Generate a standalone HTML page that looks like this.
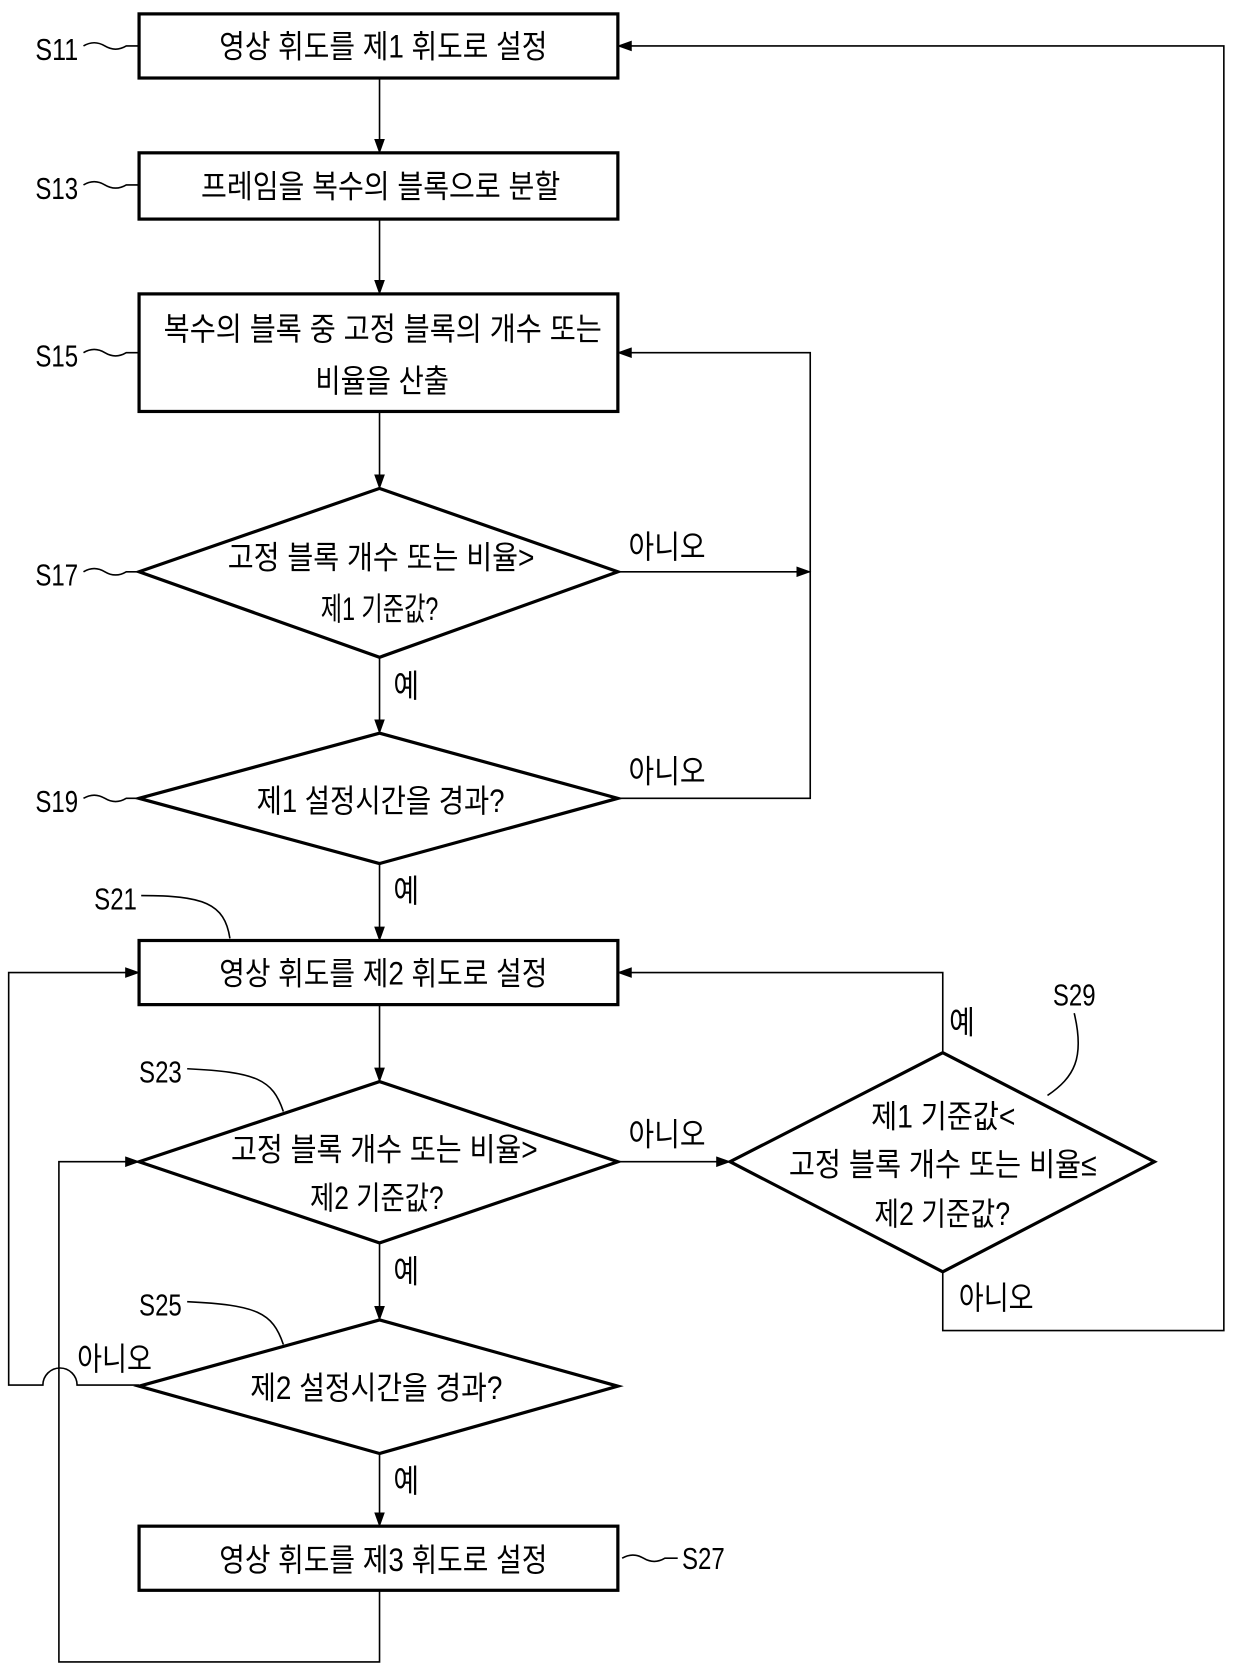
<!DOCTYPE html>
<html><head><meta charset="utf-8"><style>
html,body{margin:0;padding:0;background:#fff}
svg{display:block}
text{font-family:"Liberation Sans","Noto Sans CJK KR",sans-serif;fill:#000}
.k{font-size:30px}
.l{font-size:29px}
</style></head><body>
<svg width="1240" height="1679" viewBox="0 0 1160 1571" xmlns="http://www.w3.org/2000/svg">
<defs><marker id="a" markerWidth="14" markerHeight="10" refX="13" refY="5" orient="auto" markerUnits="userSpaceOnUse"><path d="M0,0 L14,5 L0,10 z" fill="#000"/></marker></defs>
<g fill="none" stroke="#000" stroke-width="3">
<rect x="130" y="13" width="448" height="60"/>
<rect x="130" y="143" width="448" height="62"/>
<rect x="130" y="275" width="448" height="110"/>
<polygon points="130,535 355,457 578,535 355,615"/>
<polygon points="130,747 355,686 578,747 355,808"/>
<rect x="130" y="880" width="448" height="60"/>
<polygon points="130,1087 355,1012 578,1087 355,1163"/>
<polygon points="683,1087 882,985 1080,1087 882,1190"/>
<polygon points="130,1297 355,1235 578,1297 355,1360"/>
<rect x="130" y="1428" width="448" height="60"/>
</g>
<g fill="none" stroke="#000" stroke-width="1.5">
<line x1="355" y1="73" x2="355" y2="143" marker-end="url(#a)"/>
<line x1="355" y1="205" x2="355" y2="275" marker-end="url(#a)"/>
<line x1="355" y1="385" x2="355" y2="457" marker-end="url(#a)"/>
<line x1="355" y1="615" x2="355" y2="686" marker-end="url(#a)"/>
<line x1="355" y1="808" x2="355" y2="880" marker-end="url(#a)"/>
<line x1="355" y1="940" x2="355" y2="1012" marker-end="url(#a)"/>
<line x1="355" y1="1163" x2="355" y2="1235" marker-end="url(#a)"/>
<line x1="355" y1="1360" x2="355" y2="1428" marker-end="url(#a)"/>
<line x1="578" y1="535" x2="758" y2="535" marker-end="url(#a)"/>
<polyline points="578,747 758,747 758,330 578,330" marker-end="url(#a)"/>
<line x1="578" y1="1087" x2="683" y2="1087" marker-end="url(#a)"/>
<polyline points="882,985 882,910 578,910" marker-end="url(#a)"/>
<polyline points="882,1190 882,1245 1145,1245 1145,43 578,43" marker-end="url(#a)"/>
<path d="M130,1296 L72,1296 A16,16 0 0 0 40,1296 L8,1296 L8,910 L130,910" marker-end="url(#a)"/>
<polyline points="355,1488 355,1555 55,1555 55,1087 130,1087" marker-end="url(#a)"/>
<path d="M78,43 q10,-6 20,0 t20,0 l12,0"/>
<path d="M78,173 q10,-6 20,0 t20,0 l12,0"/>
<path d="M78,330 q10,-6 20,0 t20,0 l12,0"/>
<path d="M78,535 q10,-6 20,0 t20,0 l12,0"/>
<path d="M78,747 q10,-6 20,0 t20,0 l12,0"/>
<path d="M582,1458 q10,-6 20,0 t20,0 l12,0"/>
<path d="M132,838 C190,838 210,845 215,878"/>
<path d="M175,1000 C240,1003 255,1010 265,1040"/>
<path d="M175,1218 C240,1221 255,1228 265,1258"/>
<path d="M1005,948 C1015,990 1005,1008 980,1025"/>
</g>
<g class="l">
<text x="33" y="56" textLength="40" lengthAdjust="spacingAndGlyphs">S11</text>
<text x="33" y="186" textLength="40" lengthAdjust="spacingAndGlyphs">S13</text>
<text x="33" y="343" textLength="40" lengthAdjust="spacingAndGlyphs">S15</text>
<text x="33" y="548" textLength="40" lengthAdjust="spacingAndGlyphs">S17</text>
<text x="33" y="760" textLength="40" lengthAdjust="spacingAndGlyphs">S19</text>
<text x="88" y="851" textLength="40" lengthAdjust="spacingAndGlyphs">S21</text>
<text x="130" y="1013" textLength="40" lengthAdjust="spacingAndGlyphs">S23</text>
<text x="130" y="1231" textLength="40" lengthAdjust="spacingAndGlyphs">S25</text>
<text x="638" y="1468" textLength="40" lengthAdjust="spacingAndGlyphs">S27</text>
<text x="985" y="941" textLength="40" lengthAdjust="spacingAndGlyphs">S29</text>
</g>
<g class="k">
<text x="205" y="54" textLength="307" lengthAdjust="spacingAndGlyphs">영상 휘도를 제1 휘도로 설정</text>
<text x="188" y="185" textLength="336" lengthAdjust="spacingAndGlyphs">프레임을 복수의 블록으로 분할</text>
<text x="153" y="318" textLength="410" lengthAdjust="spacingAndGlyphs">복수의 블록 중 고정 블록의 개수 또는</text>
<text x="295" y="367" textLength="125" lengthAdjust="spacingAndGlyphs">비율을 산출</text>
<text x="213" y="532" textLength="287" lengthAdjust="spacingAndGlyphs">고정 블록 개수 또는 비율&gt;</text>
<text x="300" y="580" textLength="110" lengthAdjust="spacingAndGlyphs">제1 기준값?</text>
<text x="240" y="760" textLength="232" lengthAdjust="spacingAndGlyphs">제1 설정시간을 경과?</text>
<text x="205" y="921" textLength="307" lengthAdjust="spacingAndGlyphs">영상 휘도를 제2 휘도로 설정</text>
<text x="216" y="1086" textLength="287" lengthAdjust="spacingAndGlyphs">고정 블록 개수 또는 비율&gt;</text>
<text x="290" y="1131" textLength="125" lengthAdjust="spacingAndGlyphs">제2 기준값?</text>
<text x="815" y="1055" textLength="135" lengthAdjust="spacingAndGlyphs">제1 기준값&lt;</text>
<text x="738" y="1100" textLength="288" lengthAdjust="spacingAndGlyphs">고정 블록 개수 또는 비율≤</text>
<text x="818" y="1146" textLength="127" lengthAdjust="spacingAndGlyphs">제2 기준값?</text>
<text x="234" y="1309" textLength="236" lengthAdjust="spacingAndGlyphs">제2 설정시간을 경과?</text>
<text x="205" y="1470" textLength="307" lengthAdjust="spacingAndGlyphs">영상 휘도를 제3 휘도로 설정</text>
<text x="588" y="522" textLength="72" lengthAdjust="spacingAndGlyphs">아니오</text>
<text x="588" y="732" textLength="72" lengthAdjust="spacingAndGlyphs">아니오</text>
<text x="588" y="1072" textLength="72" lengthAdjust="spacingAndGlyphs">아니오</text>
<text x="897" y="1225" textLength="70" lengthAdjust="spacingAndGlyphs">아니오</text>
<text x="72" y="1282" textLength="70" lengthAdjust="spacingAndGlyphs">아니오</text>
<text x="368" y="652" textLength="24" lengthAdjust="spacingAndGlyphs">예</text>
<text x="368" y="844" textLength="24" lengthAdjust="spacingAndGlyphs">예</text>
<text x="368" y="1200" textLength="24" lengthAdjust="spacingAndGlyphs">예</text>
<text x="368" y="1396" textLength="24" lengthAdjust="spacingAndGlyphs">예</text>
<text x="888" y="967" textLength="24" lengthAdjust="spacingAndGlyphs">예</text>
</g>
</svg>
</body></html>
